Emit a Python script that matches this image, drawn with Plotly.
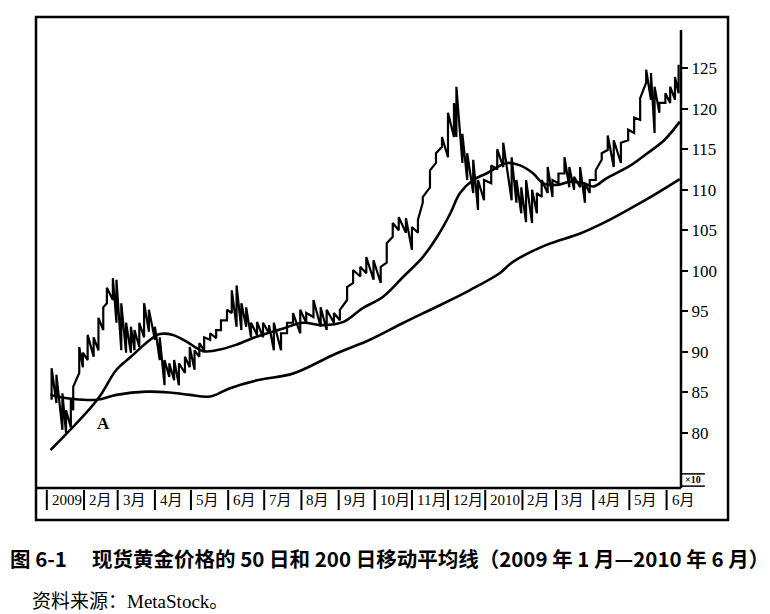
import plotly.graph_objects as go

# daily high/low bars of spot gold (price x10)
price_dates = [
    "2009-01-05", "2009-01-09", "2009-01-14", "2009-01-17", "2009-01-21", "2009-01-23", "2009-01-28", "2009-01-31",
    "2009-02-04", "2009-02-09", "2009-02-13", "2009-02-17", "2009-02-20", "2009-02-25", "2009-02-28",
    "2009-03-04", "2009-03-08", "2009-03-12", "2009-03-15", "2009-03-19", "2009-03-23", "2009-03-27",
    "2009-04-01", "2009-04-05", "2009-04-09", "2009-04-13", "2009-04-17", "2009-04-21", "2009-04-26", "2009-04-30",
    "2009-05-04", "2009-05-08", "2009-05-12", "2009-05-17", "2009-05-22", "2009-05-26", "2009-05-31",
    "2009-06-04", "2009-06-08", "2009-06-12", "2009-06-16", "2009-06-20", "2009-06-25", "2009-06-30",
    "2009-07-05", "2009-07-09", "2009-07-15", "2009-07-20", "2009-07-25", "2009-07-31",
    "2009-08-05", "2009-08-11", "2009-08-17", "2009-08-22", "2009-08-28",
    "2009-09-02", "2009-09-08", "2009-09-13", "2009-09-19", "2009-09-24", "2009-09-30",
    "2009-10-06", "2009-10-11", "2009-10-16", "2009-10-21", "2009-10-27",
    "2009-11-01", "2009-11-06", "2009-11-10", "2009-11-16", "2009-11-21", "2009-11-26",
    "2009-12-01", "2009-12-06", "2009-12-08", "2009-12-13", "2009-12-17", "2009-12-22", "2009-12-26", "2009-12-31",
    "2010-01-06", "2010-01-11", "2010-01-16", "2010-01-23", "2010-01-27", "2010-01-31",
    "2010-02-04", "2010-02-09", "2010-02-13", "2010-02-17", "2010-02-22", "2010-02-26",
    "2010-03-03", "2010-03-08", "2010-03-12", "2010-03-16", "2010-03-21", "2010-03-25", "2010-03-29",
    "2010-04-03", "2010-04-08", "2010-04-13", "2010-04-18", "2010-04-24", "2010-04-30",
    "2010-05-05", "2010-05-10", "2010-05-15", "2010-05-19", "2010-05-22", "2010-05-26", "2010-05-31",
    "2010-06-04", "2010-06-08", "2010-06-11",
]
price_high = [
    88.0, 87.2, 84.9, 82.8, 84.1, 85.7, 90.6, 89.9,
    92.1, 91.8, 94.2, 95.5, 97.9, 99.1, 98.9,
    96.0, 93.6, 93.1, 92.7, 93.6, 96.0, 95.2,
    93.1, 91.8, 89.0, 88.6, 89.0, 88.6, 89.4, 90.6,
    90.2, 91.1, 91.8, 92.3, 92.7, 93.9, 95.2,
    97.6, 98.2, 96.0, 95.5, 93.6, 93.7, 93.6,
    93.3, 93.6, 92.3, 93.6, 94.8, 95.2,
    94.8, 96.4, 95.5, 95.2, 94.8,
    95.2, 98.0, 100.1, 100.5, 101.7, 101.3,
    100.5, 103.4, 105.9, 106.6, 106.5,
    105.4, 106.3, 109.1, 112.4, 114.5, 116.5,
    119.5, 120.7, 122.7, 116.9, 114.5, 113.7, 111.2, 111.2,
    113.0, 115.0, 115.8, 114.0, 111.2, 110.3,
    111.2, 110.0, 109.6, 111.2, 112.8, 111.2,
    112.0, 114.0, 112.8, 111.6, 112.8, 110.8, 111.2,
    112.4, 114.5, 116.7, 116.1, 115.8, 117.4,
    118.9, 121.3, 124.8, 124.4, 122.7, 120.7, 121.9,
    122.7, 123.9, 125.4,
]
price_low = [
    84.1, 83.7, 80.4, 80.0, 80.7, 82.8, 87.4, 88.1,
    89.0, 89.4, 90.2, 92.7, 96.0, 96.4, 93.6,
    90.2, 89.9, 89.9, 90.2, 90.6, 91.8, 92.5,
    91.5, 89.0, 85.9, 86.9, 86.5, 85.9, 87.4, 88.1,
    87.8, 89.4, 90.2, 91.5, 91.7, 92.7, 93.9,
    94.8, 93.1, 92.7, 93.1, 91.8, 92.1, 91.8,
    92.3, 90.2, 90.2, 92.3, 93.6, 92.3,
    93.6, 94.3, 93.1, 92.7, 93.6,
    93.9, 96.4, 98.5, 99.3, 99.7, 98.9,
    98.5, 101.0, 104.2, 105.0, 104.7,
    102.6, 104.7, 108.4, 110.3, 113.3, 115.3,
    114.0, 116.5, 116.5, 113.3, 111.2, 109.6, 107.5, 108.7,
    110.8, 112.5, 112.8, 108.7, 108.4, 107.1,
    106.0, 105.9, 107.1, 109.1, 109.6, 109.1,
    110.8, 112.0, 110.3, 110.0, 110.3, 108.4, 109.6,
    111.2, 113.7, 114.9, 112.8, 113.3, 116.1,
    117.0, 118.6, 123.2, 121.1, 117.0, 119.5, 120.7,
    120.7, 121.1, 121.9,
]

# 50-day moving average
ma50_dates = [
    "2009-01-04", "2009-02-12", "2009-02-28", "2009-03-12", "2009-03-28", "2009-04-05", "2009-04-16",
    "2009-04-27", "2009-05-11", "2009-05-22", "2009-06-08", "2009-06-25", "2009-07-17", "2009-08-02",
    "2009-08-19", "2009-09-05", "2009-09-21", "2009-10-08", "2009-10-25", "2009-11-10", "2009-11-22",
    "2009-12-03", "2009-12-11", "2009-12-22", "2010-01-02", "2010-01-19", "2010-01-30", "2010-02-10",
    "2010-02-18", "2010-03-02", "2010-03-13", "2010-03-24", "2010-04-01", "2010-04-12", "2010-05-02",
    "2010-05-16", "2010-05-30", "2010-06-12",
]
ma50 = [
    77.9, 84.1, 87.8, 89.4, 91.5, 92.2, 92.1,
    91.3, 90.1, 90.2, 90.9, 91.9, 92.9, 93.6,
    93.3, 93.7, 95.4, 96.8, 99.3, 101.7, 104.2,
    107.1, 109.6, 111.2, 112.0, 113.3, 113.0, 112.0,
    110.8, 110.6, 111.0, 110.8, 110.4, 111.4, 113.0,
    114.5, 116.1, 118.4,
]

# 200-day moving average
ma200_dates = [
    "2009-01-04", "2009-01-23", "2009-02-12", "2009-02-28", "2009-03-25", "2009-04-13", "2009-04-30",
    "2009-05-17", "2009-06-02", "2009-06-25", "2009-07-22", "2009-08-02", "2009-08-30", "2009-09-27",
    "2009-10-25", "2009-11-22", "2009-12-19", "2010-01-13", "2010-01-24", "2010-02-21", "2010-03-21",
    "2010-04-12", "2010-05-02", "2010-05-21", "2010-06-12",
]
ma200 = [
    84.7, 84.2, 84.1, 84.7, 85.1, 85.0, 84.7,
    84.5, 85.5, 86.5, 87.2, 87.8, 89.8, 91.5,
    93.6, 95.6, 97.6, 99.7, 101.1, 103.2, 104.6,
    106.1, 107.7, 109.3, 111.3,
]

month_starts = [
    "2009-01-01", "2009-02-01", "2009-03-01", "2009-04-01", "2009-05-01", "2009-06-01",
    "2009-07-01", "2009-08-01", "2009-09-01", "2009-10-01", "2009-11-01", "2009-12-01",
    "2010-01-01", "2010-02-01", "2010-03-01", "2010-04-01", "2010-05-01", "2010-06-01",
]
month_labels = ["2009", "2月", "3月", "4月", "5月", "6月", "7月", "8月", "9月", "10月", "11月", "12月",
                "2010", "2月", "3月", "4月", "5月", "6月"]
y_ticks = [80, 85, 90, 95, 100, 105, 110, 115, 120, 125]

SERIF = "Liberation Serif, Noto Sans CJK SC"
CJK = "Noto Sans CJK SC"

# high/low bars joined into one jagged trace, like dense daily bars
bar_x, bar_y = [], []
for d, hi, lo in zip(price_dates, price_high, price_low):
    bar_x += [d, d]
    bar_y += [lo, hi]

fig = go.Figure()
fig.add_trace(go.Scatter(x=bar_x, y=bar_y, mode="lines",
                         line=dict(color="black", width=2.2), hoverinfo="skip"))
fig.add_trace(go.Scatter(x=ma50_dates, y=ma50, mode="lines",
                         line=dict(color="black", width=2.6, shape="spline")))
fig.add_trace(go.Scatter(x=ma200_dates, y=ma200, mode="lines",
                         line=dict(color="black", width=2.6, shape="spline")))

shapes = [
    # outer frame
    dict(type="rect", xref="paper", yref="paper", x0=0, x1=1.0729, y0=-0.068, y1=1,
         line=dict(color="black", width=2.5)),
    # bottom of plot area
    dict(type="line", xref="paper", yref="paper", x0=0, x1=1, y0=0, y1=0,
         line=dict(color="black", width=2.5)),
    # price axis line
    dict(type="line", xref="paper", yref="y", x0=1, x1=1, y0=73.22, y1=129.7,
         line=dict(color="black", width=2.5)),
    # x10 marker lines
    dict(type="line", xref="paper", yref="paper", x0=1, x1=1.037, y0=0.03, y1=0.03,
         line=dict(color="black", width=1.5)),
    dict(type="line", xref="paper", yref="paper", x0=1, x1=1.037, y0=0.004, y1=0.004,
         line=dict(color="black", width=1.5)),
]
for d in month_starts:
    shapes.append(dict(type="line", xref="x", yref="paper", x0=d, x1=d, y0=-0.004, y1=-0.047,
                       line=dict(color="black", width=2)))

annotations = []
for d, lab in zip(month_starts, month_labels):
    annotations.append(dict(x=d, y=-0.026, xref="x", yref="paper", text=lab, showarrow=False,
                            xanchor="left", yanchor="middle", xshift=3,
                            font=dict(family=SERIF, size=15, color="black")))
annotations += [
    dict(x="2009-02-17", y=81.2, xref="x", yref="y", text="<b>A</b>", showarrow=False,
         font=dict(family="Liberation Serif", size=17, color="black")),
    dict(x=1.003, y=0.017, xref="paper", yref="paper", text="<b>×10</b>", showarrow=False,
         xanchor="left", yanchor="middle", font=dict(family="Liberation Serif", size=10, color="black")),
    dict(x=-0.0434, y=-0.1486, xref="paper", yref="paper", xanchor="left", yanchor="middle",
         text="<b>图 6-1　 现货黄金价格的 50 日和 200 日移动平均线（2009 年 1 月—2010 年 6 月）</b>",
         showarrow=False, font=dict(family=CJK, size=20.5, color="black")),
    dict(x=-0.0093, y=-0.240, xref="paper", yref="paper", xanchor="left", yanchor="middle",
         text="资料来源：MetaStock。", showarrow=False,
         font=dict(family=SERIF, size=19, color="black")),
]

# the page adds an 8 px body margin, so the figure is 8 px smaller each way
fig.update_layout(
    width=762, height=606,
    margin=dict(l=28, r=89, t=9, b=126),
    paper_bgcolor="white", plot_bgcolor="white",
    showlegend=False,
    shapes=shapes,
    annotations=annotations,
    xaxis=dict(type="date", range=["2008-12-23", "2010-06-13"], showgrid=False, zeroline=False,
               showticklabels=False, ticks="", showline=False),
    yaxis=dict(side="right", range=[73.22, 131.3], tickvals=y_ticks, ticks="outside", ticklen=6,
               tickwidth=2, tickcolor="black", showgrid=False, zeroline=False, showline=False,
               tickfont=dict(family="Liberation Serif", size=17, color="black")),
)

fig.write_html("out.html", config={"displayModeBar": False})
